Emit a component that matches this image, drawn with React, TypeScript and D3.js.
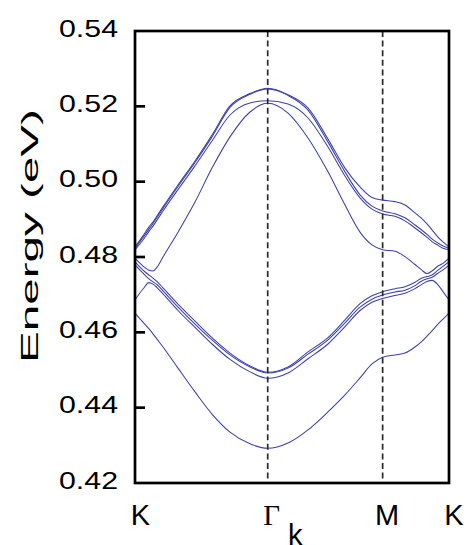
import React from 'react';
import * as d3 from 'd3';

// k-path coordinate (K=0, Γ=4/3, M=4/3+2/√3, K=…)
const kPoints = [0, 0.0804, 0.1407, 0.1808, 0.2210, 0.2813, 0.4320, 0.6028, 0.7736, 0.9544, 1.1554, 1.3333, 1.5372, 1.7381, 1.9390, 2.1098, 2.2605, 2.3811, 2.4880, 2.6122, 2.7126, 2.8131, 2.8734, 2.9337, 2.9839, 3.0442, 3.0944, 3.1547];

// band energies (eV)
const band1 = [0.4827, 0.4856, 0.4880, 0.4893, 0.4909, 0.4933, 0.4991, 0.5055, 0.5124, 0.5201, 0.5234, 0.5248, 0.5231, 0.5196, 0.5113, 0.5036, 0.4986, 0.4958, 0.4951, 0.4947, 0.4938, 0.4917, 0.4904, 0.4888, 0.4872, 0.4853, 0.4840, 0.4827];
const band2 = [0.4823, 0.4852, 0.4874, 0.4889, 0.4905, 0.4929, 0.4987, 0.5051, 0.5119, 0.5197, 0.5232, 0.5246, 0.5229, 0.5190, 0.5105, 0.5026, 0.4965, 0.4935, 0.4922, 0.4915, 0.4904, 0.4885, 0.4873, 0.4860, 0.4848, 0.4837, 0.4829, 0.4823];
const band3 = [0.4819, 0.4845, 0.4868, 0.4882, 0.4898, 0.4922, 0.4979, 0.5042, 0.5108, 0.5177, 0.5209, 0.5215, 0.5206, 0.5169, 0.5092, 0.5015, 0.4957, 0.4927, 0.4914, 0.4908, 0.4896, 0.4877, 0.4865, 0.4852, 0.4841, 0.4831, 0.4823, 0.4819];
const band4 = [0.4797, 0.4776, 0.4765, 0.4763, 0.4773, 0.4800, 0.4866, 0.4946, 0.5036, 0.5119, 0.5185, 0.5208, 0.5182, 0.5116, 0.5026, 0.4938, 0.4866, 0.4832, 0.4819, 0.4815, 0.4801, 0.4780, 0.4767, 0.4756, 0.4763, 0.4776, 0.4783, 0.4797];
const band5 = [0.4787, 0.4765, 0.4752, 0.4744, 0.4735, 0.4718, 0.4675, 0.4630, 0.4586, 0.4545, 0.4511, 0.4494, 0.4508, 0.4548, 0.4586, 0.4633, 0.4676, 0.4697, 0.4708, 0.4716, 0.4721, 0.4733, 0.4743, 0.4748, 0.4752, 0.4765, 0.4775, 0.4787];
const band6 = [0.4779, 0.4757, 0.4742, 0.4734, 0.4727, 0.4710, 0.4667, 0.4622, 0.4580, 0.4540, 0.4508, 0.4492, 0.4505, 0.4542, 0.4580, 0.4625, 0.4667, 0.4688, 0.4699, 0.4707, 0.4712, 0.4724, 0.4735, 0.4742, 0.4746, 0.4757, 0.4766, 0.4778];
const band7 = [0.4686, 0.4715, 0.4732, 0.4728, 0.4719, 0.4702, 0.4658, 0.4613, 0.4569, 0.4528, 0.4495, 0.4478, 0.4492, 0.4530, 0.4569, 0.4615, 0.4658, 0.4680, 0.4690, 0.4698, 0.4704, 0.4716, 0.4726, 0.4735, 0.4738, 0.4726, 0.4708, 0.4686];
const band8 = [0.4651, 0.4627, 0.4609, 0.4596, 0.4582, 0.4561, 0.4505, 0.4442, 0.4383, 0.4335, 0.4304, 0.4292, 0.4306, 0.4341, 0.4389, 0.4434, 0.4479, 0.4516, 0.4534, 0.4540, 0.4545, 0.4561, 0.4574, 0.4590, 0.4604, 0.4622, 0.4635, 0.4651];

const bands = [band1, band2, band3, band4, band5, band6, band7, band8];

const yTicks = [0.42, 0.44, 0.46, 0.48, 0.50, 0.52, 0.54];
const innerTicks = [0.44, 0.46, 0.48, 0.50, 0.52];
const symK = [0, 1.3333, 2.4880, 3.1547];
const dashedK = [1.3333, 2.4880];

export default function App() {
  const W = 467, H = 545;
  const x = d3.scaleLinear().domain([0, 3.1547]).range([135, 449]);
  const y = d3.scaleLinear().domain([0.42, 0.54]).range([483, 31]);
  const line = d3.line<number>()
    .x((_, i) => x(kPoints[i]))
    .y((d) => y(d))
    .curve(d3.curveMonotoneX);

  const sans = 'Liberation Sans, Arial, Helvetica, sans-serif';
  const serif = 'Liberation Serif, Times New Roman, serif';

  return (
    <svg width={W} height={H} style={{ position: 'absolute', left: 0, top: 0, background: '#fff' }}>
      <rect x={0} y={0} width={W} height={H} fill="#fff" />
      {/* bands */}
      <g fill="none" stroke="#3c40a8" strokeWidth={1.05}>
        {bands.map((b, i) => <path key={i} d={line(b) || ''} />)}
      </g>
      {/* dashed symmetry lines */}
      {dashedK.map((k, i) => (
        <line key={i} x1={x(k)} x2={x(k)} y1={y(0.54)} y2={y(0.42)} stroke="#2a2a2a" strokeWidth={1.7} strokeDasharray="6,3.6" />
      ))}
      {/* frame */}
      <rect x={x(0)} y={y(0.54)} width={x(3.1547) - x(0)} height={y(0.42) - y(0.54)} fill="none" stroke="#000" strokeWidth={2.7} />
      {innerTicks.map((t) => (
        <line key={t} x1={x(0)} x2={x(0) + 10} y1={y(t)} y2={y(t)} stroke="#000" strokeWidth={2.7} />
      ))}
      {/* y tick labels */}
      {yTicks.map((t) => (
        <text key={t} x={118} y={y(t) + 5.8} textAnchor="end" fontFamily={sans} fontSize={24}
          textLength={59} lengthAdjust="spacingAndGlyphs" fill="#000">{t.toFixed(2)}</text>
      ))}
      {/* y title */}
      <text transform={`translate(38, 236) rotate(-90)`} textAnchor="middle" fontFamily={sans} fontSize={24}
        textLength={254} lengthAdjust="spacingAndGlyphs" fill="#000">Energy (eV)</text>
      {/* x labels */}
      <text x={x(symK[0]) + 5.5} y={524.5} textAnchor="middle" fontFamily={sans} fontSize={29}>K</text>
      <text x={x(symK[1]) + 4} y={524.5} textAnchor="middle" fontFamily={serif} fontSize={29}>Γ</text>
      <text x={288} y={545} fontFamily={sans} fontSize={29}>k</text>
      <text x={x(symK[2]) + 4.5} y={524.5} textAnchor="middle" fontFamily={sans} fontSize={29}>M</text>
      <text x={x(symK[3]) + 5} y={524.5} textAnchor="middle" fontFamily={sans} fontSize={29}>K</text>
    </svg>
  );
}
